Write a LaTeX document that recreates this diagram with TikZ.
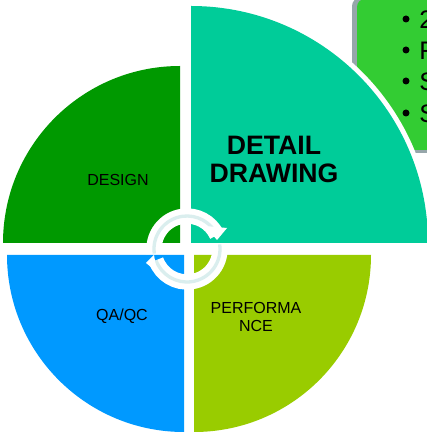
\documentclass[tikz,border=0pt]{standalone}
\usepackage{fontspec}
\setmainfont{Liberation Sans}
\usepackage{xcolor}
\usetikzlibrary{arrows.meta, positioning}
\definecolor{detailteal}{RGB}{0,204,153}
\definecolor{designgreen}{RGB}{0,153,0}
\definecolor{qablue}{RGB}{0,153,255}
\definecolor{perfgreen}{RGB}{153,204,0}
\definecolor{boxgreen}{RGB}{51,204,51}
\definecolor{boxshadow}{RGB}{150,166,170}
\definecolor{cyclepale}{RGB}{218,238,238}
\tikzset{
    quadlabel/.style={font=\fontsize{12}{14}\selectfont, align=center, text=black},
    boxitem/.style={font=\fontsize{19}{21}\selectfont, anchor=base west, inner sep=0pt},
    cycleback/.style={white, line width=11.5},
    cyclefront/.style={cyclepale, line width=2.5}
}

\begin{document}
\begin{tikzpicture}[x=0.75pt, y=0.75pt]
    % Page, y counts up from the bottom edge
    \clip (0,0) rectangle (427,432);

    % Note box behind the big quadrant
    \fill[boxshadow, rounded corners=6] (352,279) rectangle (460,434);
    \fill[boxgreen, rounded corners=6] (357,282) rectangle (460,433);
    \foreach \y/\item in {
        403/2,
        372/F,
        341/S,
        309/S
    } {
        \fill[black] (406,\y) ++(0,10) circle (3.5);
        \node[boxitem] (item\y) at (419,\y) {\item};
    }

    % Quadrants
    \fill[white] (191,189) -- (433,189) arc (0:90:242) -- cycle;
    \fill[detailteal] (191,189) -- (428,189) arc (0:90:237) -- cycle;
    \fill[designgreen] (180,189) -- (3,189) arc (180:90:177) -- cycle;
    \fill[qablue] (184,177) -- (7,177) arc (180:270:177) -- cycle;
    \fill[perfgreen] (194,177) -- (371,177) arc (0:-90:177) -- cycle;

    % Labels
    \node[quadlabel] (design) at (118,252) {DESIGN};
    \node[quadlabel] (qaqc) at (122,116) {QA/QC};
    \node[quadlabel] (performance) at (256,115) {PERFORMA\\NCE};
    \node[font=\fontsize{20}{21}\selectfont\bfseries, align=center] (detail) at (274,273) {DETAIL\\DRAWING};

    % Cycle arrows
    \foreach \a/\b in {188/25, 8/-160} {
        \draw[cycleback] (187,183) ++(\a:33) arc (\a:\b:33);
        \draw[cyclefront] (187,183) ++(\a:33) arc (\a:\b:33);
    }
    \fill[white] (227,204) -- (217,192) -- (205,206) -- cycle;
    \fill[white] (154,177) -- (146,169) -- (157,160) -- cycle;
\end{tikzpicture}
\end{document}
